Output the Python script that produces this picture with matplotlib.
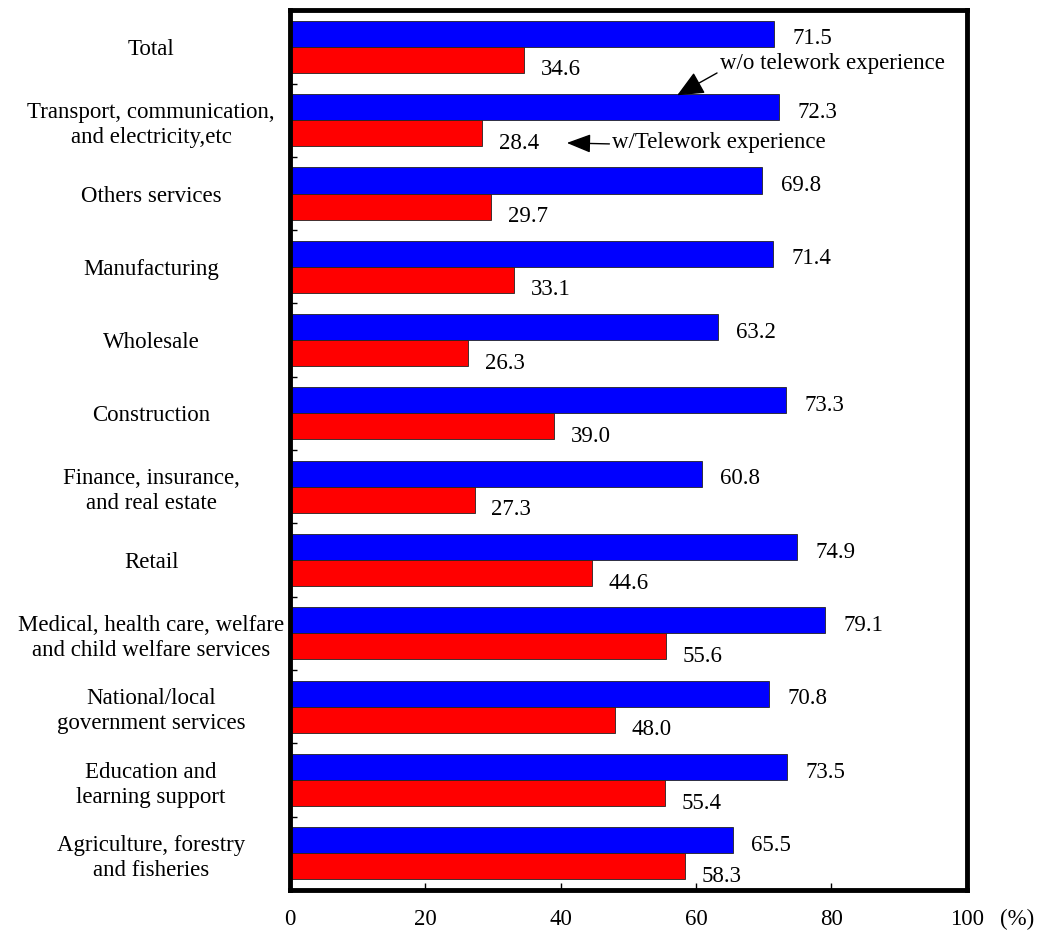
import matplotlib.pyplot as plt
import numpy as np
from matplotlib.ticker import FixedLocator

plt.rcParams['font.family'] = ['Liberation Serif', 'DejaVu Serif']
plt.rcParams['font.size'] = 16.5

categories = ["Total",
              "Transport, communication,\nand electricity,etc",
              "Others services",
              "Manufacturing",
              "Wholesale",
              "Construction",
              "Finance, insurance,\nand real estate",
              "Retail",
              "Medical, health care, welfare\nand child welfare services",
              "National/local\ngovernment services",
              "Education and\nlearning support",
              "Agriculture, forestry\nand fisheries"]
without_tw = [71.5, 72.3, 69.8, 71.4, 63.2, 73.3, 60.8, 74.9, 79.1, 70.8, 73.5, 65.5]
with_tw = [34.6, 28.4, 29.7, 33.1, 26.3, 39.0, 27.3, 44.6, 55.6, 48.0, 55.4, 58.3]
xticks = [0, 20, 40, 60, 80, 100]

fig = plt.figure(figsize=(10.56, 9.3), dpi=100)
ax = fig.add_axes([0.2746, 0.043, 0.641, 0.946])

y = np.arange(len(categories))
h = 0.355
ax.barh(y - h/2, without_tw, height=h, color="#0000ff", edgecolor="#222222", linewidth=0.6)
ax.barh(y + h/2, with_tw, height=h, color="#ff0000", edgecolor="#222222", linewidth=0.6)

for i in range(len(categories)):
    ax.annotate("%.1f" % without_tw[i], (without_tw[i], y[i] - h/2), xytext=(13, -3.6),
                textcoords="offset points", ha="left", va="center")
    ax.annotate("%.1f" % with_tw[i], (with_tw[i], y[i] + h/2), xytext=(12, -7.2),
                textcoords="offset points", ha="left", va="center")

ax.set_xlim(0, 100)
ax.set_ylim(len(categories) - 0.5, -0.5)

ax.set_xticks(xticks)
ax.set_xticklabels([str(t) for t in xticks])
ax.tick_params(axis="x", direction="in", length=5, width=1, pad=14)
ax.set_yticks(y)
ax.set_yticklabels(categories, ha="center", multialignment="center", linespacing=1.25)
ax.tick_params(axis="y", which="major", length=0, pad=100)
ax.yaxis.set_minor_locator(FixedLocator(np.arange(-0.5, len(categories), 1.0)))
ax.tick_params(axis="y", which="minor", direction="in", length=5, width=1)

for s in ax.spines.values():
    s.set_linewidth(3.5)

ax.text(1.049, -0.034, "(%)", transform=ax.transAxes, ha="left", va="center")

ax.annotate("w/o telework experience", xy=(57.2, 0.66), xytext=(63.5, 0.22),
            ha="left", va="center",
            arrowprops=dict(arrowstyle="-|>,head_length=1.0,head_width=0.45", color="black",
                            lw=1, shrinkA=0, shrinkB=0, relpos=(0.0, 0.1)))
ax.annotate("w/Telework experience", xy=(40.9, 1.31), xytext=(47.6, 1.31),
            ha="left", va="center",
            arrowprops=dict(arrowstyle="-|>,head_length=0.9,head_width=0.35", color="black",
                            lw=1, shrinkA=0, shrinkB=0, relpos=(0.0, 0.45)))

fig.savefig("out.png", dpi=100)
